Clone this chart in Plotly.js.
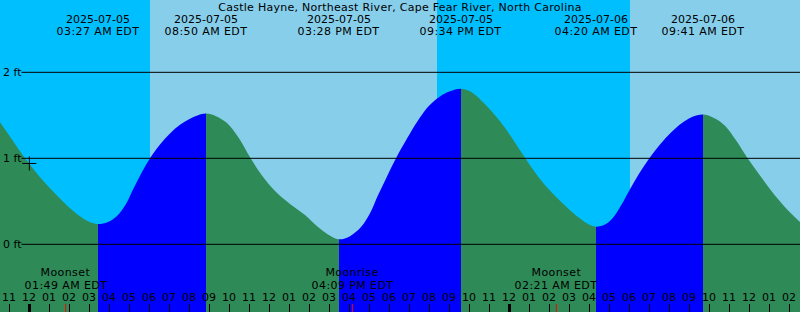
<!DOCTYPE html>
<html><head><meta charset="utf-8">
<script src="https://cdn.plot.ly/plotly-3.0.1.min.js"></script>
<style>html,body{margin:0;padding:0;background:#00BFFF;overflow:hidden}#chart{width:800px;height:312px}</style>
</head><body><div id="chart"></div>
<script>
const chartTitle = 'Castle Hayne, Northeast River, Cape Fear River, North Carolina';

// Tide level (ft)
const curveTimes = [
 '2025-07-04 22:32','2025-07-04 23:08','2025-07-04 23:47','2025-07-05 00:32','2025-07-05 01:17',
 '2025-07-05 02:02','2025-07-05 02:44','2025-07-05 03:08','2025-07-05 03:27',
 '2025-07-05 03:56','2025-07-05 04:23','2025-07-05 04:50','2025-07-05 05:14','2025-07-05 05:38',
 '2025-07-05 06:02','2025-07-05 06:32','2025-07-05 07:02','2025-07-05 07:32','2025-07-05 08:02',
 '2025-07-05 08:26','2025-07-05 08:50',
 '2025-07-05 09:20','2025-07-05 09:53','2025-07-05 10:26','2025-07-05 11:04','2025-07-05 11:38',
 '2025-07-05 12:17','2025-07-05 13:02','2025-07-05 13:47','2025-07-05 14:26','2025-07-05 14:56',
 '2025-07-05 15:28',
 '2025-07-05 16:02','2025-07-05 16:35','2025-07-05 17:02','2025-07-05 17:26','2025-07-05 17:53',
 '2025-07-05 18:20','2025-07-05 18:53','2025-07-05 19:26','2025-07-05 19:59','2025-07-05 20:32',
 '2025-07-05 21:02','2025-07-05 21:34',
 '2025-07-05 22:02','2025-07-05 22:47','2025-07-05 23:32','2025-07-06 00:11','2025-07-06 00:48',
 '2025-07-06 01:26','2025-07-06 02:08','2025-07-06 02:50','2025-07-06 03:32','2025-07-06 03:59',
 '2025-07-06 04:20',
 '2025-07-06 04:47','2025-07-06 05:11','2025-07-06 05:35','2025-07-06 06:02','2025-07-06 06:29',
 '2025-07-06 07:00','2025-07-06 07:32','2025-07-06 08:05','2025-07-06 08:38','2025-07-06 09:08',
 '2025-07-06 09:41',
 '2025-07-06 10:14','2025-07-06 10:47','2025-07-06 11:20','2025-07-06 11:55','2025-07-06 12:32',
 '2025-07-06 13:08','2025-07-06 13:50','2025-07-06 14:32'];
const curveFeet = [
 1.42, 1.22, 1.00, 0.78, 0.59,
 0.42, 0.295, 0.25, 0.235,
 0.26, 0.33, 0.47, 0.66, 0.84,
 1.00, 1.16, 1.29, 1.39, 1.46,
 1.50, 1.52,
 1.49, 1.41, 1.25, 1.00, 0.80,
 0.62, 0.47, 0.34, 0.20, 0.115,
 0.058,
 0.095, 0.20, 0.36, 0.57, 0.79,
 1.00, 1.23, 1.44, 1.61, 1.72,
 1.78, 1.81,
 1.78, 1.63, 1.43, 1.22, 1.00,
 0.79, 0.60, 0.44, 0.30, 0.23,
 0.205,
 0.23, 0.31, 0.45, 0.64, 0.82,
 1.00, 1.16, 1.30, 1.41, 1.48,
 1.51,
 1.47, 1.38, 1.21, 1.00, 0.80,
 0.61, 0.42, 0.26];

// High / low tide events
const eventTimes  = ['2025-07-04 20:43','2025-07-05 03:27','2025-07-05 08:50','2025-07-05 15:28','2025-07-05 21:34','2025-07-06 04:20','2025-07-06 09:41','2025-07-06 16:12'];
const eventKinds  = ['high','low','high','low','high','low','high','low'];
const eventDates  = ['2025-07-04','2025-07-05','2025-07-05','2025-07-05','2025-07-05','2025-07-06','2025-07-06','2025-07-06'];
const eventLabels = ['08:43 PM EDT','03:27 AM EDT','08:50 AM EDT','03:28 PM EDT','09:34 PM EDT','04:20 AM EDT','09:41 AM EDT','04:12 PM EDT'];

// Sun (day/night) and moon events
const sunTimes  = ['2025-07-05 06:02','2025-07-05 20:23','2025-07-06 06:02'];
const sunKinds  = ['rise','set','rise'];
const moonTimes  = ['2025-07-05 01:49','2025-07-05 16:09','2025-07-06 02:21'];
const moonNames  = ['Moonset','Moonrise','Moonset'];
const moonLabels = ['01:49 AM EDT','04:09 PM EDT','02:21 AM EDT'];

// Depth ticks
const depthTicks  = [0, 1, 2];
const depthLabels = ['0 ft','1 ft','2 ft'];

// Marked time
const markTime = '2025-07-05 00:00';
const markFeet = 0.94;

const NIGHT = '#00BFFF', DAY = '#87CEEB', FLOOD = '#0000FF', EBB = '#2E8B57';
const FONT = {family: 'DejaVu Sans', size: 11, color: '#000000'};
const H = 312;
const py = p => (H - p) / H;

const ms = s => Date.parse(s.replace(' ', 'T') + ':00Z');
function fmt(t) { return new Date(t).toISOString().slice(0, 19).replace('T', ' '); }

const viewStart = curveTimes[0], viewEnd = curveTimes[curveTimes.length - 1];
const t0 = ms(viewStart), t1 = ms(viewEnd);

// water gradient: flood (rising) / ebb (falling) bands
const waterScale = [];
let firstIn = eventTimes.findIndex(t => ms(t) > t0);
let col = eventKinds[firstIn] === 'low' ? EBB : FLOOD;
waterScale.push([0, col]);
for (let i = firstIn; i < eventTimes.length; i++) {
  const t = ms(eventTimes[i]);
  if (t >= t1) break;
  const p = (t - t0) / (t1 - t0);
  const next = eventKinds[i] === 'low' ? FLOOD : EBB;
  waterScale.push([p, col]); waterScale.push([p, next]);
  col = next;
}
waterScale.push([1, col]);

// sky bands
const shapes = [];
const skyEdges = [viewStart].concat(sunTimes).concat([viewEnd]);
for (let i = 0; i < skyEdges.length - 1; i++) {
  const isDay = i === 0 ? sunKinds[0] === 'set' : sunKinds[i - 1] === 'rise';
  shapes.push({type: 'rect', layer: 'below', xref: 'x', yref: 'paper', x0: skyEdges[i], x1: skyEdges[i + 1], y0: 0, y1: 1,
    fillcolor: isDay ? DAY : NIGHT, line: {width: 0}});
}
depthTicks.forEach(v => shapes.push({type: 'line', layer: 'above', xref: 'paper', yref: 'y', x0: 21.5 / 800, x1: 1, y0: v, y1: v,
  line: {color: '#000000', width: 1}}));
moonTimes.forEach(t => shapes.push({type: 'line', layer: 'above', xref: 'x', yref: 'paper', x0: t, x1: t, y0: 0, y1: 8 / H,
  line: {color: '#FF0000', width: 1}}));

const annotations = [];
depthTicks.forEach((v, i) => annotations.push({xref: 'paper', yref: 'y', x: 0, y: v, xanchor: 'left', yanchor: 'middle',
  xshift: 1, text: depthLabels[i], showarrow: false, font: FONT}));
eventTimes.forEach((t, i) => {
  annotations.push({xref: 'x', yref: 'paper', x: t, y: py(19.5), xanchor: 'center', yanchor: 'middle', text: eventDates[i], showarrow: false, font: FONT});
  annotations.push({xref: 'x', yref: 'paper', x: t, y: py(31.7), xanchor: 'center', yanchor: 'middle', text: eventLabels[i], showarrow: false, font: FONT});
});
moonTimes.forEach((t, i) => {
  annotations.push({xref: 'x', yref: 'paper', x: t, y: py(272.5), xanchor: 'center', yanchor: 'middle', text: moonNames[i], showarrow: false, font: FONT});
  annotations.push({xref: 'x', yref: 'paper', x: t, y: py(285.5), xanchor: 'center', yanchor: 'middle', text: moonLabels[i], showarrow: false, font: FONT});
});
// hour labels
const hourStart = Math.ceil(t0 / 3600000) * 3600000;
for (let t = hourStart; t <= t1; t += 3600000) {
  let h = new Date(t).getUTCHours() % 12; if (h === 0) h = 12;
  annotations.push({xref: 'x', yref: 'paper', x: fmt(t), y: py(297.5), xanchor: 'center', yanchor: 'middle',
    text: (h < 10 ? '0' : '') + h, showarrow: false, font: FONT});
}

const traces = [
  {x: [viewStart, viewEnd], y: [-1, -1], mode: 'lines', line: {width: 0}, hoverinfo: 'skip', showlegend: false},
  {x: curveTimes, y: curveFeet, mode: 'lines', line: {width: 0, shape: 'spline', smoothing: 1}, fill: 'tonexty',
   fillcolor: EBB, fillgradient: {type: 'horizontal', colorscale: waterScale}, hoverinfo: 'skip', showlegend: false},
  {x: [markTime], y: [markFeet], mode: 'markers', marker: {symbol: 'cross-thin', size: 10, line: {color: '#000000', width: 1}},
   hoverinfo: 'skip', showlegend: false}
];

const layout = {
  width: 800, height: 312, autosize: false,
  margin: {l: 0, r: 0, t: 0, b: 0, pad: 0},
  paper_bgcolor: NIGHT, plot_bgcolor: NIGHT,
  showlegend: false,
  title: {text: chartTitle, font: FONT, x: 0.5, xanchor: 'center', y: py(7.5), yanchor: 'middle', yref: 'container'},
  xaxis: {type: 'date', range: [viewStart, viewEnd], showgrid: false, zeroline: false, showline: false,
    ticks: 'inside', ticklen: 8, tickwidth: 3, tickcolor: '#000000', tick0: '2025-07-05', dtick: 86400000,
    showticklabels: false, fixedrange: true,
    minor: {ticks: 'inside', ticklen: 8, tickwidth: 1, tickcolor: '#000000', tick0: '2025-07-05', dtick: 3600000, showgrid: false}},
  yaxis: {range: [-0.787, 2.841], showgrid: false, zeroline: false, showticklabels: false, ticks: '', fixedrange: true},
  shapes: shapes,
  annotations: annotations
};

Plotly.newPlot('chart', traces, layout, {staticPlot: true, displayModeBar: false}).then(() => {
  // the reference text is set with slightly wider letter advances than the browser's
  document.querySelectorAll('.annotation-text').forEach(el => {
    if (/[A-Za-z]/.test(el.textContent) && !/ft$/.test(el.textContent)) el.style.letterSpacing = '0.4px';
  });
  document.querySelectorAll('.gtitle').forEach(el => { el.style.letterSpacing = '0.26px'; });
});
</script></body></html>
